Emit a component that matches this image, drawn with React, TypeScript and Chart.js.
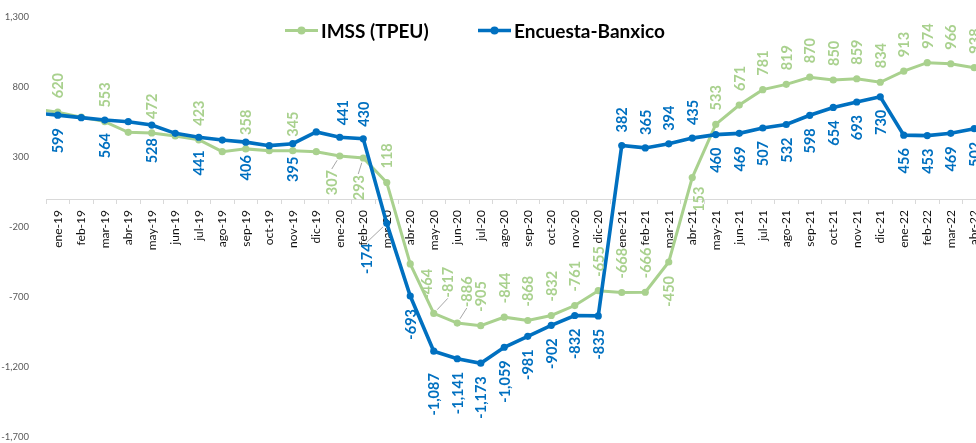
import React, { useEffect, useRef } from 'react';
import { Chart, registerables } from 'chart.js';

Chart.register(...registerables);

// Categories (dic-18 sits just left of the visible range; only its line stub shows)
const months = [
  'dic-18',
  'ene-19', 'feb-19', 'mar-19', 'abr-19', 'may-19', 'jun-19', 'jul-19', 'ago-19', 'sep-19', 'oct-19', 'nov-19', 'dic-19',
  'ene-20', 'feb-20', 'mar-20', 'abr-20', 'may-20', 'jun-20', 'jul-20', 'ago-20', 'sep-20', 'oct-20', 'nov-20', 'dic-20',
  'ene-21', 'feb-21', 'mar-21', 'abr-21', 'may-21', 'jun-21', 'jul-21', 'ago-21', 'sep-21', 'oct-21', 'nov-21', 'dic-21',
  'ene-22', 'feb-22', 'mar-22', 'abr-22',
];

const imss = [
  643,
  620, 585, 553, 476, 472, 450, 423, 338, 358, 345, 345, 338,
  307, 293, 118, -464, -817, -886, -905, -844, -868, -832, -761, -655,
  -668, -666, -450, 153, 533, 671, 781, 819, 870, 850, 859, 834,
  913, 974, 966, 938,
];

const banxico = [
  616,
  599, 581, 564, 552, 528, 469, 441, 421, 406, 381, 395, 479,
  441, 430, -174, -693, -1087, -1141, -1173, -1059, -981, -902, -832, -835,
  382, 365, 394, 435, 460, 469, 507, 532, 598, 654, 693, 730,
  456, 453, 469, 502,
];

// which points carry a value label (1 = yes)
const labelled = [
  0,
  1, 0, 1, 0, 1, 0, 1, 0, 1, 0, 1, 0,
  1, 1, 1, 1, 1, 1, 1, 1, 1, 1, 1, 1,
  1, 1, 1, 1, 1, 1, 1, 1, 1, 1, 1, 1,
  1, 1, 1, 1,
];

const yTicks = [-1700, -1200, -700, -200, 300, 800, 1300];

const GREEN = '#A9D18E';
const BLUE = '#0070C0';

type Adj = { side?: 'a' | 'b'; dx?: number; gap?: number; leader?: boolean };

const imssLabelAdjust: Record<string, Adj> = {
  'ene-20': { side: 'b', dx: -8, gap: 14, leader: true },
  'feb-20': { side: 'b', dx: -5, gap: 17, leader: true },
  'abr-20': { side: 'b', dx: 16, gap: 5 },
  'may-20': { side: 'a', dx: 14, gap: 16, leader: true },
  'jun-20': { side: 'a', dx: 9.5, gap: 16, leader: true },
  'mar-21': { side: 'b', gap: 14 },
  'abr-21': { side: 'b', dx: 6, gap: 9 },
};

const banxicoLabelAdjust: Record<string, Adj> = {
  'ene-20': { side: 'a', dx: 3, gap: 12 },
  'feb-20': { side: 'a', gap: 12 },
  'mar-20': { side: 'b', dx: -20, gap: 20, leader: true },
  'may-20': { side: 'b', gap: 22 },
  'ene-21': { side: 'a', gap: 13 },
  'feb-21': { side: 'a', gap: 13 },
  'mar-21': { side: 'a', gap: 13 },
  'abr-21': { side: 'a', gap: 13 },
};

const series = [
  { name: 'IMSS (TPEU)', values: imss, color: GREEN, side: 'a' as const, gap: 14, adjust: imssLabelAdjust },
  { name: 'Encuesta-Banxico', values: banxico, color: BLUE, side: 'b' as const, gap: 13, adjust: banxicoLabelAdjust },
];

const fmt = (v: number) => Number(v).toLocaleString('en-US');

const valueLabels = {
  id: 'valueLabels',
  afterDatasetsDraw(chart: any) {
    const ctx = chart.ctx as CanvasRenderingContext2D;
    ctx.save();
    ctx.font = 'bold 14.5px Lato';
    ctx.textAlign = 'center';
    ctx.textBaseline = 'middle';
    series.forEach((s, di) => {
      const meta = chart.getDatasetMeta(di);
      meta.data.forEach((pt: any, i: number) => {
        if (!labelled[i]) return;
        const text = fmt(s.values[i]);
        const adj = s.adjust[months[i]] || {};
        const side = adj.side || s.side;
        const gap = adj.gap ?? s.gap;
        const dx = adj.dx ?? 0;
        const w = ctx.measureText(text).width;
        const cx = pt.x + dx;
        const cy = side === 'a' ? pt.y - gap - w / 2 : pt.y + gap + w / 2;
        if (adj.leader) {
          const ex = cx;
          const ey = side === 'a' ? cy + w / 2 + 1 : cy - w / 2 - 1;
          const vx = ex - pt.x;
          const vy = ey - pt.y;
          const len = Math.hypot(vx, vy) || 1;
          ctx.beginPath();
          ctx.strokeStyle = '#A6A6A6';
          ctx.lineWidth = 1;
          ctx.moveTo(pt.x + (vx / len) * 5, pt.y + (vy / len) * 5);
          ctx.lineTo(ex, ey);
          ctx.stroke();
        }
        ctx.save();
        ctx.translate(cx, cy);
        ctx.rotate(-Math.PI / 2);
        ctx.fillStyle = s.color;
        ctx.fillText(text, 0, 1);
        ctx.restore();
      });
    });
    ctx.restore();
  },
};

const legendItems = [
  { text: 'IMSS (TPEU)', color: GREEN, x: 285, width: 3 },
  { text: 'Encuesta-Banxico', color: BLUE, x: 478, width: 3.5 },
];

const customLegend = {
  id: 'customLegend',
  afterDraw(chart: any) {
    const ctx = chart.ctx as CanvasRenderingContext2D;
    ctx.save();
    legendItems.forEach((it) => {
      const y = 30.5;
      ctx.beginPath();
      ctx.strokeStyle = it.color;
      ctx.lineWidth = it.width;
      ctx.moveTo(it.x, y);
      ctx.lineTo(it.x + 33, y);
      ctx.stroke();
      ctx.beginPath();
      ctx.fillStyle = it.color;
      ctx.arc(it.x + 16.5, y, 4, 0, Math.PI * 2);
      ctx.fill();
      ctx.font = 'bold 19px Lato';
      ctx.fillStyle = '#000';
      ctx.textAlign = 'left';
      ctx.textBaseline = 'middle';
      ctx.fillText(it.text, it.x + 36, y + 1);
    });
    ctx.restore();
  },
};

export default function App() {
  const ref = useRef<HTMLCanvasElement | null>(null);

  useEffect(() => {
    if (!ref.current) return;
    const hide = (c: any) => (c.dataIndex === 0 ? 0 : 3.6);
    const chart = new Chart(ref.current, {
      type: 'line',
      data: {
        labels: months,
        datasets: [
          {
            label: series[0].name,
            data: imss,
            borderColor: GREEN,
            backgroundColor: GREEN,
            borderWidth: 3,
            pointRadius: hide,
            pointBorderWidth: 0,
            pointBackgroundColor: GREEN,
            tension: 0,
            order: 1,
          },
          {
            label: series[1].name,
            data: banxico,
            borderColor: BLUE,
            backgroundColor: BLUE,
            borderWidth: 3.6,
            pointRadius: hide,
            pointBorderWidth: 0,
            pointBackgroundColor: BLUE,
            tension: 0,
            order: 0,
          },
        ],
      },
      options: {
        animation: false,
        responsive: false,
        devicePixelRatio: 1,
        layout: { padding: { top: 17, bottom: 6, left: 0, right: 12 } },
        plugins: {
          legend: { display: false },
          tooltip: { enabled: false },
        },
        scales: {
          x: {
            type: 'category',
            min: 'ene-19',
            offset: true,
            position: { y: 0 } as any,
            grid: {
              display: true,
              drawOnChartArea: false,
              drawTicks: true,
              tickLength: 4,
              color: '#D9D9D9',
              offset: true,
            },
            border: { display: true, color: '#D9D9D9', width: 1 },
            ticks: {
              autoSkip: false,
              minRotation: 90,
              maxRotation: 90,
              padding: 7,
              color: '#111111',
              font: { family: 'Lato', size: 12 },
            },
            afterFit: (s: any) => {
              s.height = 0;
            },
          },
          y: {
            min: yTicks[0],
            max: yTicks[yTicks.length - 1],
            grid: { display: false },
            border: { display: false },
            afterBuildTicks: (s: any) => {
              s.ticks = yTicks.map((v) => ({ value: v }));
            },
            ticks: {
              padding: 9,
              color: '#595959',
              font: { family: 'Lato', size: 9.5 },
              callback: (v: any) => fmt(Number(v)),
            },
            afterFit: (s: any) => {
              s.width = 46;
              s.paddingTop = 0;
              s.paddingBottom = 0;
            },
          },
        },
      },
      plugins: [valueLabels, customLegend],
    });
    return () => chart.destroy();
  }, []);

  return (
    <div
      style={{
        position: 'absolute',
        left: 0,
        top: 0,
        width: 976,
        height: 443,
        overflow: 'hidden',
        background: '#ffffff',
      }}
    >
      <canvas ref={ref} width={998} height={443} style={{ display: 'block' }} />
    </div>
  );
}
